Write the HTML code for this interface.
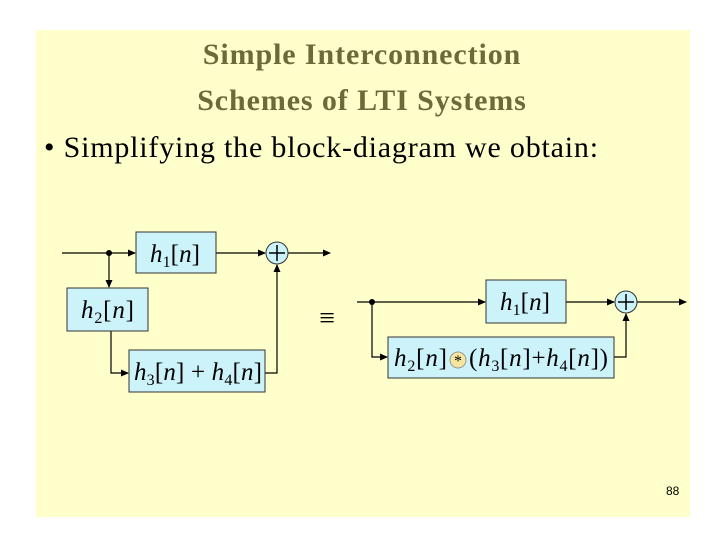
<!DOCTYPE html>
<html><head><style>
body{margin:0;width:720px;height:540px;background:#fff;position:relative;overflow:hidden}
#bg{position:absolute;left:36px;top:30px;width:654px;height:487px;background:#FFFFCC}
.t{position:absolute;font-family:"Liberation Serif",serif;font-size:30px;color:#000;white-space:nowrap}
</style></head><body>
<div id="bg"></div>
<div class="t" style="left:0;width:724px;text-align:center;top:38px;font-weight:bold;color:#6B6B3A;letter-spacing:0.9px">Simple Interconnection</div>
<div class="t" style="left:0;width:724px;text-align:center;top:84px;font-weight:bold;color:#6B6B3A;letter-spacing:0.9px">Schemes of LTI Systems</div>
<div class="t" style="left:44px;top:131px;letter-spacing:0.8px">• Simplifying the block-diagram we obtain:</div>
<div style="position:absolute;left:666px;top:484px;font:12px 'Liberation Sans',sans-serif">88</div>
<svg width="720" height="540" style="position:absolute;left:0;top:0" font-family="Liberation Serif,serif" font-style="italic">
<defs><marker id="a" markerWidth="8" markerHeight="8" refX="7" refY="4" orient="auto" markerUnits="userSpaceOnUse"><path d="M0,0.5 L8,4 L0,7.5z" fill="#000"/></marker></defs>
<g stroke="#000" stroke-width="1.2" fill="none">
<line x1="62" y1="253" x2="135" y2="253" marker-end="url(#a)"/>
<line x1="109" y1="253" x2="109" y2="287" marker-end="url(#a)"/>
<line x1="216" y1="253" x2="265" y2="253" marker-end="url(#a)"/>
<line x1="288" y1="253" x2="330" y2="253" marker-end="url(#a)"/>
<polyline points="111,331 111,373 128,373" marker-end="url(#a)"/>
<polyline points="265,373 277,373 277,265" marker-end="url(#a)"/>
<line x1="357" y1="302" x2="485" y2="302" marker-end="url(#a)"/>
<polyline points="372,302 372,357 387,357" marker-end="url(#a)"/>
<line x1="566" y1="302" x2="614" y2="302" marker-end="url(#a)"/>
<line x1="637" y1="302" x2="686" y2="302" marker-end="url(#a)"/>
<polyline points="614,357 626,357 626,314" marker-end="url(#a)"/>
</g>
<circle cx="109" cy="253" r="3" fill="#000"/>
<circle cx="372" cy="302" r="3" fill="#000"/>
<g fill="#CCF2FA" stroke="#333" stroke-width="1">
<rect x="136" y="232" width="80" height="41"/>
<rect x="67" y="288" width="81" height="43"/>
<rect x="129" y="350" width="136" height="42"/>
<rect x="486" y="280" width="80" height="43"/>
<rect x="388" y="337" width="226" height="41"/>
<circle cx="277" cy="253" r="11"/>
<circle cx="626" cy="302" r="11"/>
</g>
<g stroke="#000" stroke-width="1.5">
<line x1="269" y1="253" x2="285" y2="253"/><line x1="277" y1="245" x2="277" y2="261"/>
<line x1="618" y1="302" x2="634" y2="302"/><line x1="626" y1="294" x2="626" y2="310"/>
</g>
<circle cx="458" cy="360" r="8" fill="#F5E6A0" stroke="#999"/>
<text x="458" y="366" font-size="16" font-style="normal" text-anchor="middle">*</text>
<g font-size="25">
<text x="150" y="262" textLength="50">h<tspan font-size="16" font-style="normal" dy="5">1</tspan><tspan dy="-5" font-style="normal">[</tspan>n<tspan font-style="normal">]</tspan></text>
<text x="81" y="318" textLength="53">h<tspan font-size="16" font-style="normal" dy="5">2</tspan><tspan dy="-5" font-style="normal">[</tspan>n<tspan font-style="normal">]</tspan></text>
<text x="134" y="380" textLength="128">h<tspan font-size="16" font-style="normal" dy="5">3</tspan><tspan dy="-5" font-style="normal">[</tspan>n<tspan font-style="normal">] + </tspan>h<tspan font-size="16" font-style="normal" dy="5">4</tspan><tspan dy="-5" font-style="normal">[</tspan>n<tspan font-style="normal">]</tspan></text>
<text x="500" y="310" textLength="50">h<tspan font-size="16" font-style="normal" dy="5">1</tspan><tspan dy="-5" font-style="normal">[</tspan>n<tspan font-style="normal">]</tspan></text>
<text x="394" y="366" textLength="53">h<tspan font-size="16" font-style="normal" dy="5">2</tspan><tspan dy="-5" font-style="normal">[</tspan>n<tspan font-style="normal">]</tspan></text>
<text x="469" y="366" textLength="139"><tspan font-style="normal">(</tspan>h<tspan font-size="16" font-style="normal" dy="5">3</tspan><tspan dy="-5" font-style="normal">[</tspan>n<tspan font-style="normal">]+</tspan>h<tspan font-size="16" font-style="normal" dy="5">4</tspan><tspan dy="-5" font-style="normal">[</tspan>n<tspan font-style="normal">])</tspan></text>
</g>
<text x="327" y="327" font-size="28" font-style="normal" text-anchor="middle">≡</text>
</svg>
</body></html>
